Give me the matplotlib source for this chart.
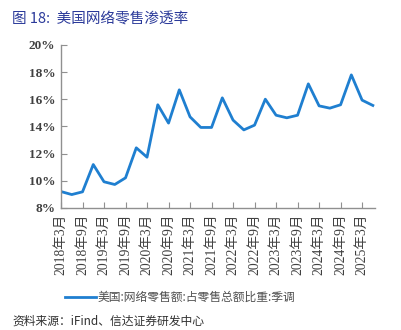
import matplotlib
matplotlib.use("Agg")
import matplotlib.pyplot as plt

plt.rcParams['font.family'] = ['Liberation Serif', 'Noto Sans CJK SC', 'DejaVu Sans']

# 季度数据 2018Q1 - 2025Q2
quarters = []
for y in range(2018, 2026):
    for m in (3, 6, 9, 12):
        quarters.append(f"{y}年{m}月")
quarters = quarters[:30]

share = [9.21, 8.99, 9.19, 11.20, 9.93, 9.73, 10.22, 12.43, 11.74, 15.60,
         14.25, 16.70, 14.71, 13.93, 13.93, 16.11, 14.47, 13.75, 14.10, 16.01,
         14.83, 14.64, 14.83, 17.14, 15.52, 15.35, 15.60, 17.80, 15.94, 15.55]

yticks = [8, 10, 12, 14, 16, 18, 20]
ylabels = [f"{v}%" for v in yticks]

fig = plt.figure(figsize=(4.02, 3.30), dpi=100)
ax = fig.add_axes([61/402, 1 - 208/330, (375-61)/402, (208-45)/330])

x = list(range(len(share)))
line, = ax.plot(x, share, color='#1f7fd0', lw=2.0)

ax.set_ylim(8, 20)
ax.set_xlim(0, 29.2)
ax.set_yticks(yticks)
ax.set_yticklabels(ylabels, fontsize=9.5, color='#404040', fontweight='bold')
ax.set_xticks(x[::2])
ax.set_xticklabels(quarters[::2], rotation=90, fontsize=9.8, color='#404040',
                   family=['Liberation Serif', 'Noto Sans CJK SC'])
ax.tick_params(direction='in', length=4, color='#909090', width=0.8, pad=4)
for s in ('top', 'right'):
    ax.spines[s].set_visible(False)
for s in ('left', 'bottom'):
    ax.spines[s].set_color('#909090')
    ax.spines[s].set_linewidth(1.0)

# 标题
fig.text(12/402, 1 - 19/330, "图 18:  美国网络零售渗透率", fontsize=10.5,
         color='#2b3a9a', va='center', fontweight='light',
         family=['Noto Sans CJK SC', 'DejaVu Sans'])

# 图例
fig.lines.append(plt.Line2D([65/402, 96/402], [1 - 297/330, 1 - 297/330],
                            color='#1f7fd0', lw=2.0, transform=fig.transFigure))
fig.text(98/402, 1 - 297/330, "美国:网络零售额:占零售总额比重:季调", fontsize=8.5,
         color='#505050', va='center', fontweight='light',
         family=['Noto Sans CJK SC', 'DejaVu Sans'])

# 来源
fig.text(12/402, 1 - 321/330, "资料来源：iFind、信达证券研发中心", fontsize=8.5,
         color='#303030', va='center', style='italic', fontweight='light',
         family=['Noto Sans CJK SC', 'DejaVu Sans'])

fig.savefig("out.png", dpi=100)
